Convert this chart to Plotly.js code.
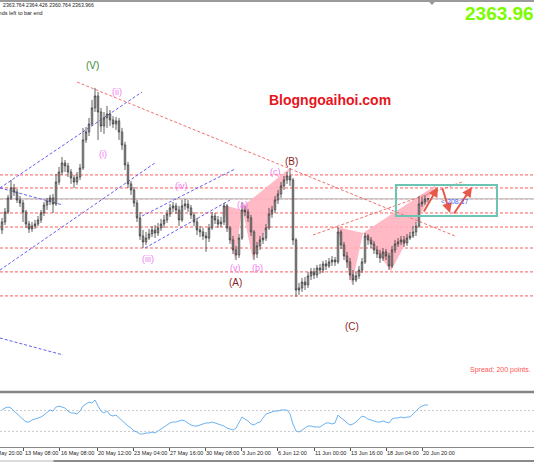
<!DOCTYPE html>
<html>
<head>
<meta charset="utf-8">
<script src="https://cdn.plot.ly/plotly-3.0.1.min.js"></script>
<style>
html,body{margin:0;padding:0;background:#fff;}
#chart{width:534px;height:462px;}
</style>
</head>
<body>
<div id="chart"></div>
<script>
// ---- Price bars (XAUUSD) ----
const opens = [
2339.3,2345.6,2353.5,2364.6,2372.5,2369.3,2363.0,2360.6,2353.5,2344.0,
2340.1,2342.4,2344.0,2347.2,2352.7,2359.0,2362.2,2364.6,2359.8,2377.2,
2385.1,2392.3,2389.9,2385.1,2380.4,2377.2,2381.2,2388.3,2410.5,2416.8,
2423.1,2435.8,2445.3,2432.6,2421.5,2427.9,2431.0,2426.3,2423.1,2425.5,
2416.8,2406.5,2390.7,2375.7,2370.9,2360.6,2348.8,2334.5,2329.8,2332.9,
2336.1,2339.3,2336.9,2340.9,2344.0,2347.2,2351.9,2356.7,2358.3,2355.1,
2347.2,2358.3,2359.8,2356.7,2351.1,2345.6,2339.3,2337.7,2334.5,2332.9,
2340.9,2350.3,2347.2,2344.0,2345.6,2358.3,2340.9,2331.4,2323.5,2319.5,
2332.9,2355.1,2353.5,2348.8,2337.7,2320.3,2326.6,2331.4,2332.9,2340.9,
2351.9,2355.1,2363.0,2367.7,2374.1,2378.8,2382.0,2378.8,2331.4,2291.8,
2293.4,2298.1,2295.8,2302.9,2306.1,2303.7,2309.2,2307.6,2312.4,2310.8,
2314.0,2315.5,2314.0,2337.7,2327.4,2318.7,2314.0,2303.7,2299.7,2302.9,
2307.6,2314.0,2334.5,2331.4,2328.2,2323.5,2320.3,2317.1,2321.9,2318.7,
2310.8,2323.5,2328.2,2329.8,2331.4,2329.0,2332.9,2334.5,2337.7,2342.4,
2359.8,2361.4,2363.764];
const highs = [
2348.8,2356.7,2367.0,2378.8,2375.7,2371.7,2366.2,2363.0,2355.1,2346.4,
2345.6,2347.2,2350.3,2355.1,2361.4,2364.6,2367.0,2367.7,2383.6,2389.1,
2397.0,2394.6,2392.3,2387.5,2382.8,2385.1,2391.5,2420.0,2420.7,2427.9,
2442.1,2451.6,2448.4,2435.8,2432.6,2437.4,2434.2,2429.4,2428.7,2427.9,
2420.0,2408.9,2393.1,2378.0,2373.3,2363.0,2353.5,2339.3,2337.7,2340.1,
2342.4,2343.2,2344.8,2348.0,2351.1,2355.1,2359.8,2361.4,2360.6,2358.3,
2363.0,2363.8,2363.0,2359.0,2353.5,2348.8,2342.4,2340.9,2337.7,2344.0,
2353.5,2352.7,2350.3,2349.6,2360.6,2359.8,2342.4,2334.5,2326.6,2336.1,
2361.4,2358.3,2355.9,2351.1,2339.3,2329.8,2334.5,2336.9,2344.0,2356.7,
2358.3,2366.2,2370.9,2377.2,2382.0,2385.1,2388.3,2380.4,2332.9,2297.4,
2301.3,2302.1,2306.1,2309.2,2309.2,2311.6,2312.4,2314.8,2315.5,2317.1,
2318.7,2317.9,2341.6,2339.3,2329.8,2321.9,2317.1,2307.6,2306.1,2310.8,
2317.1,2336.9,2336.1,2333.7,2330.6,2326.6,2323.5,2325.0,2324.2,2321.1,
2326.6,2331.4,2332.9,2334.5,2334.5,2336.1,2337.7,2342.4,2345.6,2366.2,
2365.4,2367.0,2364.426];
const lows = [
2336.1,2343.2,2351.9,2363.0,2366.2,2360.6,2357.5,2345.6,2340.9,2336.9,
2337.7,2340.1,2342.4,2344.8,2350.3,2355.1,2359.0,2352.7,2358.3,2374.9,
2382.8,2385.1,2381.2,2375.7,2372.5,2374.9,2378.8,2386.7,2408.1,2413.6,
2421.5,2432.6,2410.5,2416.8,2415.2,2420.0,2421.5,2420.0,2418.4,2410.5,
2402.6,2386.7,2372.5,2367.0,2357.5,2345.6,2331.4,2325.0,2327.4,2331.4,
2333.7,2332.9,2334.5,2338.5,2340.9,2344.8,2349.6,2353.5,2351.9,2342.4,
2345.6,2355.1,2353.5,2348.0,2342.4,2335.3,2333.7,2331.4,2321.9,2329.8,
2339.3,2344.0,2340.9,2341.6,2343.2,2337.7,2328.2,2320.3,2315.5,2317.1,
2331.4,2350.3,2345.6,2334.5,2315.5,2317.1,2323.5,2328.2,2330.6,2339.3,
2348.8,2352.7,2359.8,2364.6,2370.9,2375.7,2374.1,2327.4,2286.3,2287.9,
2290.2,2291.8,2293.4,2299.7,2300.5,2301.3,2304.5,2305.3,2307.6,2309.2,
2310.8,2310.8,2312.4,2324.2,2315.5,2309.2,2299.7,2295.8,2298.1,2300.5,
2305.3,2312.4,2327.4,2325.0,2320.3,2317.1,2313.2,2314.8,2315.5,2307.6,
2309.2,2321.1,2325.8,2327.4,2325.8,2326.6,2331.4,2332.9,2334.5,2340.9,
2357.5,2359.0,2360.764];
const closes = [
2345.6,2353.5,2364.6,2372.5,2369.3,2363.0,2360.6,2353.5,2344.0,2340.1,
2342.4,2344.0,2347.2,2352.7,2359.0,2362.2,2364.6,2359.8,2377.2,2385.1,
2392.3,2389.9,2385.1,2380.4,2377.2,2381.2,2388.3,2410.5,2416.8,2423.1,
2435.8,2445.3,2432.6,2421.5,2427.9,2431.0,2426.3,2423.1,2425.5,2416.8,
2406.5,2390.7,2375.7,2370.9,2360.6,2348.8,2334.5,2329.8,2332.9,2336.1,
2339.3,2336.9,2340.9,2344.0,2347.2,2351.9,2356.7,2358.3,2355.1,2347.2,
2358.3,2359.8,2356.7,2351.1,2345.6,2339.3,2337.7,2334.5,2332.9,2340.9,
2350.3,2347.2,2344.0,2345.6,2358.3,2340.9,2331.4,2323.5,2319.5,2332.9,
2355.1,2353.5,2348.8,2337.7,2320.3,2326.6,2331.4,2332.9,2340.9,2351.9,
2355.1,2363.0,2367.7,2374.1,2378.8,2382.0,2378.8,2331.4,2291.8,2293.4,
2298.1,2295.8,2302.9,2306.1,2303.7,2309.2,2307.6,2312.4,2310.8,2314.0,
2315.5,2314.0,2337.7,2327.4,2318.7,2314.0,2303.7,2299.7,2302.9,2307.6,
2314.0,2334.5,2331.4,2328.2,2323.5,2320.3,2317.1,2321.9,2318.7,2310.8,
2323.5,2328.2,2329.8,2331.4,2329.0,2332.9,2334.5,2337.7,2342.4,2359.8,
2361.4,2363.8,2363.966];

// ---- RSI sub-window ----
const rsi = [
71.2,75.0,76.9,75.0,69.2,63.5,59.6,53.8,48.1,48.1,
51.9,53.8,55.8,57.7,61.5,67.3,71.2,69.2,76.9,78.8,
76.9,75.0,69.2,65.4,65.4,63.5,69.2,78.8,82.7,86.5,
84.6,90.4,78.8,69.2,65.4,69.2,61.5,59.6,61.5,55.8,
51.9,44.2,40.4,36.5,30.8,28.8,25.0,25.0,26.9,26.9,
28.8,26.9,30.8,34.6,38.5,42.3,46.2,48.1,48.1,50.0,
51.9,50.0,46.2,42.3,40.4,40.4,42.3,44.2,46.2,46.2,
48.1,46.2,44.2,42.3,40.4,36.5,34.6,32.7,36.5,46.2,
57.7,53.8,50.0,44.2,42.3,46.2,48.1,55.8,63.5,65.4,
67.3,69.2,69.2,71.2,71.2,71.2,63.5,44.2,30.8,28.8,
32.7,36.5,40.4,40.4,38.5,38.5,38.5,42.3,46.2,46.2,
44.2,46.2,61.5,55.8,51.9,46.2,42.3,44.2,48.1,53.8,
59.6,57.7,53.8,51.9,50.0,48.1,48.1,50.0,48.1,46.2,
53.8,55.8,55.8,57.7,55.8,57.7,57.7,63.5,67.3,75.0,
78.8,80.8,80.8];
const rsiLevels = [70, 30];

// ---- time axis labels ----
const tickLabels = ["13 May 08:00","16 May 08:00","20 May 12:00","23 May 04:00","27 May 16:00",
  "30 May 08:00","3 Jun 20:00","6 Jun 12:00","11 Jun 00:00","13 Jun 16:00","18 Jun 04:00","20 Jun 20:00"];
const tickBars = [7.33,19.33,31.67,43.67,55.67,67.67,79.67,91.67,104,116,128,140];

// ---- analysis objects (bar index, price) ----
const hLevels = [2382.8, 2372.5, 2363.8, 2352.7, 2341.6, 2325.0, 2306.1, 2287.1];
const bidPrice = 2363.966;
const redTrends = [[25, 2456.3, 151, 2334.5], [103.67, 2335.3, 153.33, 2377.2]];
const blueLines = [[-0.67, 2372.5, 46.67, 2448.4], [-0.67, 2307.6, 51, 2392.3],
  [-0.67, 2372.5, 20.33, 2359.0], [-0.67, 2253.8, 20.33, 2240.4],
  [46.67, 2350.3, 77.67, 2387.5], [47.67, 2325.0, 76, 2363.0]];
const triangles = [
  [[73.67,2359.0],[77.67,2315.5],[80,2355.1]],
  [[80,2357.5],[83.67,2315.5],[96,2388.3]],
  [[111.67,2341.6],[116.67,2296.6],[120.33,2336.9]],
  [[120.33,2336.9],[129.67,2306.8],[144.67,2374.9]]];
const targetBox = [131.33, 2350.3, 165, 2374.9];
const arrows = [[140.33,2352.7,145.33,2373.3],[146.67,2373.3,149.33,2352.7],[150.33,2351.1,156.67,2373.3]];

const waveText = ["(V)","(ii)","(i)","(iii)","(iv)","(a)","(v)","(b)","(c)","(A)","(B)","(C)"];
const waveBar  = [30, 38.33, 33.67, 48.67, 59.67, 80, 77.67, 85, 91, 77.67, 96.33, 116.67];
const wavePrice= [2469.0, 2448.4, 2399.4, 2316.3, 2374.1, 2359.0, 2309.2, 2309.2, 2385.1, 2297.4, 2393.1, 2263.3];
const waveDegree=["major","minor","minor","minor","minor","minor","minor","minor","minor","inter","inter","inter"];

const barIdx = closes.map((_, i) => i);

const FONT = "Liberation Sans, Arial, sans-serif";
const degreeStyle = {
  major: {color:"#3a8a3a", size:10},
  minor: {color:"#f07cf0", size:9},
  inter: {color:"#8b1e1e", size:10}
};

const traces = [
  {
    type: "candlestick", x: barIdx, open: opens, high: highs, low: lows, close: closes,
    xaxis: "x", yaxis: "y", hoverinfo: "none", whiskerwidth: 0,
    increasing: {line: {color: "#3a3a3a", width: 0.8}, fillcolor: "#cdcdcd"},
    decreasing: {line: {color: "#3a3a3a", width: 0.8}, fillcolor: "#b5b5b5"},
    showlegend: false
  },
  {
    type: "scatter", mode: "lines", x: barIdx, y: rsi, xaxis: "x", yaxis: "y2",
    line: {color: "#6db3f2", width: 1}, hoverinfo: "none", showlegend: false
  }
];

const shapes = [];
hLevels.forEach(p => shapes.push({type:"line", xref:"paper", x0:0, x1:1, yref:"y", y0:p, y1:p,
  line:{color:"#ff5a5a", width:1, dash:"3px,2px"}, layer:"below"}));
shapes.push({type:"line", xref:"paper", x0:0, x1:1, yref:"y", y0:bidPrice, y1:bidPrice,
  line:{color:"#c8c8c8", width:1.5}, layer:"below"});
triangles.forEach(t => shapes.push({type:"path", xref:"x", yref:"y",
  path: "M " + t.map(p => p[0] + "," + p[1]).join(" L ") + " Z",
  fillcolor:"#ffb3c0", line:{width:0}, opacity:0.9, layer:"below"}));
redTrends.forEach(l => shapes.push({type:"line", xref:"x", yref:"y", x0:l[0], y0:l[1], x1:l[2], y1:l[3],
  line:{color:"#f07070", width:1, dash:"3px,2px"}, layer:"below"}));
blueLines.forEach(l => shapes.push({type:"line", xref:"x", yref:"y", x0:l[0], y0:l[1], x1:l[2], y1:l[3],
  line:{color:"#6060f0", width:1, dash:"3px,2px"}, layer:"below"}));
shapes.push({type:"rect", xref:"x", yref:"y", x0:targetBox[0], y0:targetBox[1], x1:targetBox[2], y1:targetBox[3],
  line:{color:"#6cc4b2", width:2}, fillcolor:"rgba(0,0,0,0)"});
rsiLevels.forEach(v => shapes.push({type:"line", xref:"paper", x0:0, x1:1, yref:"y2", y0:v, y1:v,
  line:{color:"#c8c8c8", width:1, dash:"2px,2px"}, layer:"below"}));
shapes.push({type:"line", xref:"paper", yref:"paper", x0:0, x1:1, y0:0.998, y1:0.998, line:{color:"#9a9a9a", width:2}});
shapes.push({type:"path", xref:"paper", yref:"paper", path:"M 0.802,0.998 L 0.816,0.998 L 0.809,0.989 Z",
  fillcolor:"#9a9a9a", line:{width:0}});
shapes.push({type:"line", xref:"paper", yref:"paper", x0:0, x1:1, y0:0.1230, y1:0.1230, line:{color:"#858585", width:2.5}});
shapes.push({type:"line", xref:"paper", yref:"paper", x0:0, x1:0.1, y0:-0.0313, y1:-0.0313, line:{color:"#dcdcdc", width:2}});
shapes.push({type:"line", xref:"paper", yref:"paper", x0:0.1, x1:1, y0:-0.0313, y1:-0.0313, line:{color:"#8a8a8a", width:2}});

const annotations = [];
waveText.forEach((t, i) => {
  const st = degreeStyle[waveDegree[i]];
  annotations.push({xref:"x", yref:"y", x:waveBar[i], y:wavePrice[i], text:t, showarrow:false,
    font:{family:FONT, size:st.size, color:st.color}, xanchor:"center", yanchor:"middle"});
});
arrows.forEach(a => annotations.push({xref:"x", yref:"y", axref:"x", ayref:"y",
  x:a[2], y:a[3], ax:a[0], ay:a[1], text:"", showarrow:true, arrowhead:2, arrowsize:1,
  arrowwidth:2, arrowcolor:"#e8584a"}));
annotations.push({xref:"x", yref:"y", x:109.33, y:2442.1, text:"<b>Blogngoaihoi.com</b>", showarrow:false,
  font:{family:FONT, size:14, color:"#e8141c"}});
annotations.push({xref:"x", yref:"y", x:145.5, y:2361.4, text:"< 208:17", showarrow:false, xanchor:"left",
  font:{family:FONT, size:7, color:"#4a63f0"}});
annotations.push({xref:"paper", yref:"paper", x:0.867, y:0.9687, text:"<b>2363.966</b>", showarrow:false,
  xanchor:"left", yanchor:"middle", font:{family:FONT, size:19, color:"#7cfc00"}});
annotations.push({xref:"paper", yref:"paper", x:0.998, y:0.1723, text:"Spread: 200 points.", showarrow:false,
  xanchor:"right", yanchor:"middle", font:{family:FONT, size:7, color:"#ff5555"}});
annotations.push({xref:"paper", yref:"paper", x:0.002, y:0.9888, text:"2363.764 2364.426 2360.764 2363.966", showarrow:false,
  xanchor:"left", yanchor:"middle", font:{family:FONT, size:5.2, color:"#222"}});
annotations.push({xref:"paper", yref:"paper", x:0.0843, y:0.9709, text:"seconds left to bar end", showarrow:false,
  xanchor:"right", yanchor:"middle", font:{family:FONT, size:5.5, color:"#222"}});
annotations.push({xref:"paper", yref:"paper", x:-0.0187, y:-0.0134, text:"8 May 20:00", showarrow:false,
  xanchor:"left", yanchor:"middle", font:{family:FONT, size:5.5, color:"#222"}});

const layout = {
  width: 534, height: 462,
  margin: {l:0, r:0, t:0, b:15, pad:0},
  paper_bgcolor: "#ffffff", plot_bgcolor: "#ffffff",
  showlegend: false,
  xaxis: {
    domain:[0,1], range:[-0.667, 177.33], anchor:"y2",
    showgrid:false, zeroline:false, rangeslider:{visible:false},
    tickmode:"array", tickvals: tickBars, ticktext: tickLabels, tickangle: 0,
    ticks:"outside", ticklen:3, tickcolor:"#555", ticklabelposition:"outside right",
    tickfont:{family:FONT, size:5.5, color:"#222"},
    showline:true, linecolor:"#888", linewidth:1, fixedrange:true
  },
  yaxis: {
    domain:[0.1253, 0.99105], range:[2211.9, 2518.0],
    showgrid:false, zeroline:false, showticklabels:false, ticks:"", fixedrange:true
  },
  yaxis2: {
    domain:[0, 0.1163], range:[0, 100],
    showgrid:false, zeroline:false, showticklabels:false, ticks:"", fixedrange:true
  },
  shapes: shapes,
  annotations: annotations
};

Plotly.newPlot("chart", traces, layout, {displayModeBar:false, staticPlot:true});
</script>
</body>
</html>
